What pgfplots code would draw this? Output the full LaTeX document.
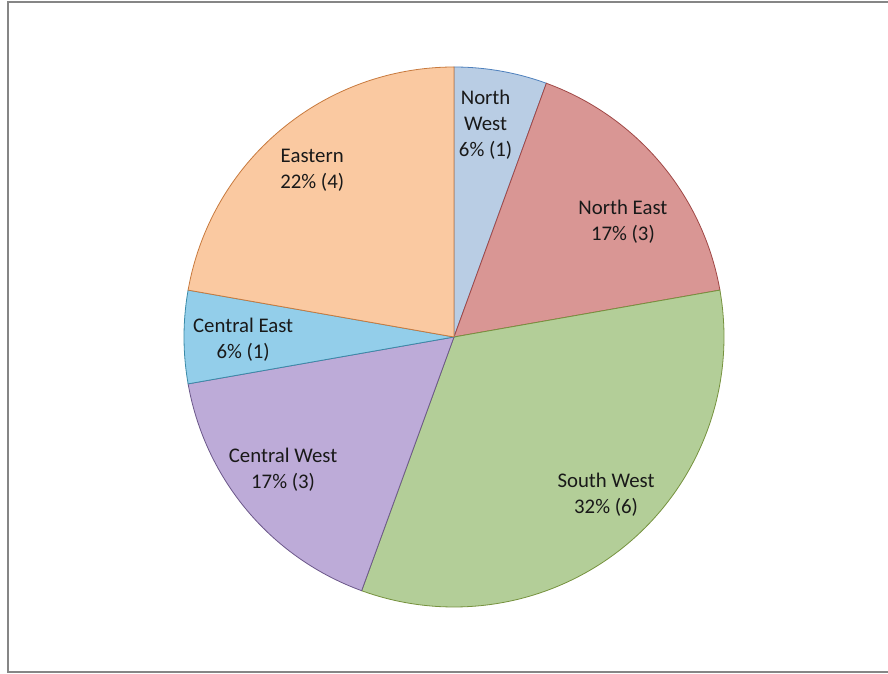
\documentclass[border=0pt]{standalone}
\usepackage{fontspec}
\setmainfont{Carlito}
\usepackage{pgfplots}
\pgfplotsset{compat=1.18}
\usepgfplotslibrary{polar}

\definecolor{nwfill}{RGB}{185,205,228}
\definecolor{nwline}{RGB}{79,129,189}
\definecolor{nefill}{RGB}{217,150,148}
\definecolor{neline}{RGB}{160,72,70}
\definecolor{swfill}{RGB}{179,206,152}
\definecolor{swline}{RGB}{118,146,62}
\definecolor{cwfill}{RGB}{189,171,216}
\definecolor{cwline}{RGB}{108,88,138}
\definecolor{cefill}{RGB}{147,206,234}
\definecolor{celine}{RGB}{58,138,168}
\definecolor{eafill}{RGB}{250,201,161}
\definecolor{ealine}{RGB}{200,122,62}
\definecolor{framegray}{RGB}{134,134,134}

\tikzset{lab/.style={font=\fontsize{20.8bp}{26bp}\selectfont, align=center,
    inner sep=0pt, text=black!90, yshift=-2bp}}

% one slice: starts after #1 counts, holds #2 counts (18 in all),
% drawn clockwise from twelve o'clock
\newcommand{\slice}[4]{%
  \addplot[fill=#3, draw=#4, line width=0.8bp,
    domain={90-20*(#1+#2)}:{90-20*(#1)}, samples=150]
    {1} -- (axis cs:0,0) -- cycle;
}

\begin{document}
\begin{tikzpicture}[x=1bp,y=1bp]
\useasboundingbox (0,0) rectangle (888,674);
\fill[white] (0,0) rectangle (888,674);
\draw[framegray, line width=1.6bp] (8,2) rectangle (900,672);
\begin{polaraxis}[
  hide axis,
  ymin=0, ymax=1,
  clip=false,
  scale only axis,
  width=540bp, height=540bp,
  at={(454bp,337bp)}, anchor=center,
]
\slice{0}{1}{nwfill}{nwline}   % North West
\slice{1}{3}{nefill}{neline}   % North East
\slice{4}{6}{swfill}{swline}   % South West
\slice{10}{3}{cwfill}{cwline}  % Central West
\slice{13}{1}{cefill}{celine}  % Central East
\slice{14}{4}{eafill}{ealine}  % Eastern

\node[lab] at (axis cs:81.6,0.801) {North\\West\\6\% (1)};
\node[lab] at (axis cs:34.7,0.761) {North East\\17\% (3)};
\node[lab] at (axis cs:-45.6,0.805) {South West\\32\% (6)};
\node[lab] at (axis cs:217.5,0.798) {Central West\\17\% (3)};
\node[lab] at (axis cs:180.1,0.781) {Central East\\6\% (1)};
\node[lab] at (axis cs:130.0,0.817) {Eastern\\22\% (4)};
\end{polaraxis}
\end{tikzpicture}
\end{document}
